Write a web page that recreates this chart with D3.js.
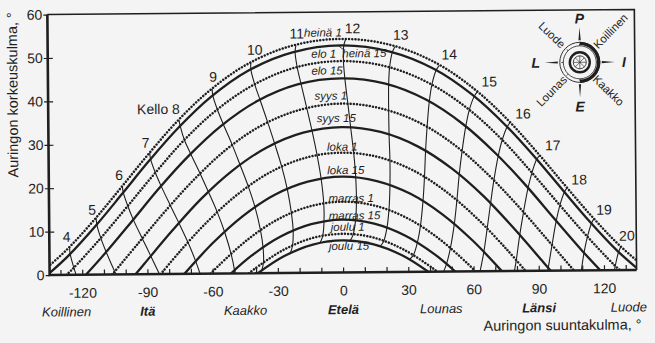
<!DOCTYPE html>
<html>
<head>
<meta charset="utf-8">
<script src="https://cdn.jsdelivr.net/npm/d3@7"></script>
<style>
  html, body { margin: 0; padding: 0; background: #f4f4f4; }
  svg { display: block; font-family: "Liberation Sans", Arial, sans-serif; }
</style>
</head>
<body>
<svg id="chart" width="655" height="343"></svg>
<script>
// Sun path diagram: solar altitude against azimuth (0 = south, negative = east)

const dateNames = ["heinä 1", "heinä 15", "elo 1", "elo 15", "syys 1", "syys 15",
                   "loka 1", "loka 15", "marras 1", "marras 15", "joulu 1", "joulu 15"];

// [azimuth °, altitude °] along each day's path, sunrise to sunset
const sunPaths = [
  [[-140.2,0],[-126.8,5.9],[-114.5,12.5],[-102.3,19.7],[-89.7,27.3],[-76.2,34.9],[-61.1,42.0],[-43.5,48.1],[-22.9,52.3],[0,53.8],[22.9,52.3],[43.5,48.1],[61.1,42.0],[76.2,34.9],[89.7,27.3],[102.3,19.7],[114.5,12.5],[126.8,5.9],[140.2,0]],
  [[-136.1,0],[-126.1,4.5],[-113.7,11.2],[-101.4,18.5],[-88.8,26.1],[-75.3,33.6],[-60.1,40.7],[-42.7,46.7],[-22.4,50.8],[0,52.3],[22.4,50.8],[42.7,46.7],[60.1,40.7],[75.3,33.6],[88.8,26.1],[101.4,18.5],[113.7,11.2],[126.1,4.5],[136.1,0]],
  [[-127.3,0],[-124.5,1.3],[-111.9,8.1],[-99.4,15.4],[-86.6,23.0],[-73.0,30.6],[-58.0,37.5],[-40.8,43.3],[-21.3,47.3],[0,48.7],[21.3,47.3],[40.8,43.3],[58.0,37.5],[73.0,30.6],[86.6,23.0],[99.4,15.4],[111.9,8.1],[124.5,1.3],[127.3,0]],
  [[-118.3,0],[-109.9,4.6],[-97.3,12.0],[-84.4,19.7],[-70.7,27.1],[-55.8,33.9],[-39.0,39.6],[-20.2,43.4],[0,44.7],[20.2,43.4],[39.0,39.6],[55.8,33.9],[70.7,27.1],[84.4,19.7],[97.3,12.0],[109.9,4.6],[118.3,0]],
  [[-106.2,0],[-94.2,7.1],[-81.2,14.7],[-67.6,22.0],[-52.9,28.7],[-36.7,34.1],[-18.9,37.6],[0,38.9],[18.9,37.6],[36.7,34.1],[52.9,28.7],[67.6,22.0],[81.2,14.7],[94.2,7.1],[106.2,0]],
  [[-95.5,0],[-91.4,2.4],[-78.4,10.0],[-64.9,17.3],[-50.5,23.7],[-34.8,28.9],[-17.8,32.3],[0,33.5],[17.8,32.3],[34.8,28.9],[50.5,23.7],[64.9,17.3],[78.4,10.0],[91.4,2.4],[95.5,0]],
  [[-83.9,0],[-75.5,4.9],[-62.2,12.0],[-48.0,18.3],[-32.9,23.3],[-16.8,26.5],[0,27.6],[16.8,26.5],[32.9,23.3],[48.0,18.3],[62.2,12.0],[75.5,4.9],[83.9,0]],
  [[-73.0,0],[-59.7,7.1],[-45.9,13.2],[-31.3,18.0],[-15.9,21.0],[0,22.1],[15.9,21.0],[31.3,18.0],[45.9,13.2],[59.7,7.1],[73.0,0]],
  [[-60.9,0],[-57.1,1.9],[-43.7,7.8],[-29.7,12.4],[-15.1,15.3],[0,16.3],[15.1,15.3],[29.7,12.4],[43.7,7.8],[57.1,1.9],[60.9,0]],
  [[-51.6,0],[-42.2,4.0],[-28.6,8.4],[-14.5,11.2],[0,12.2],[14.5,11.2],[28.6,8.4],[42.2,4.0],[51.6,0]],
  [[-43.3,0],[-41.0,0.9],[-27.8,5.2],[-14.0,8.0],[0,8.9],[14.0,8.0],[27.8,5.2],[41.0,0.9],[43.3,0]],
  [[-39.2,0],[-27.4,3.8],[-13.8,6.5],[0,7.4],[13.8,6.5],[27.4,3.8],[39.2,0]]
];

// clock hours and the sun's position at that hour on each date, top date first
const hourNames = [4, 5, 6, 7, 8, 9, 10, 11, 12, 13, 14, 15, 16, 17, 18, 19, 20];
const hourLines = [
  [[-125.7,6.5],[-125.5,4.9],[-123.8,1.6],[-122.8,0]],
  [[-113.4,13.1],[-113.1,11.6],[-111.3,8.4],[-108.9,5.2],[-105.1,0.7],[-104.5,0]],
  [[-101.2,20.4],[-100.8,18.9],[-98.8,15.8],[-96.3,12.6],[-92.2,8.2],[-88.4,4.2],[-84.5,0]],
  [[-88.5,28.0],[-88.1,26.5],[-86.0,23.4],[-83.3,20.2],[-79.2,15.8],[-75.3,11.7],[-71.2,7.2],[-67.7,2.8],[-65.8,0]],
  [[-74.9,35.5],[-74.3,34.0],[-72.5,30.9],[-69.6,27.6],[-65.4,23.1],[-61.6,18.8],[-57.6,14.1],[-54.3,9.5],[-51.4,4.4],[-49.9,0.6],[-49.8,0]],
  [[-59.5,42.6],[-59.2,41.0],[-57.2,37.8],[-54.5,34.4],[-50.4,29.5],[-46.9,24.9],[-43.2,19.9],[-40.2,15.1],[-37.8,9.8],[-36.7,5.8],[-36.6,2.4],[-37.5,0.5]],
  [[-41.6,48.5],[-41.6,46.9],[-39.9,43.5],[-37.5,39.9],[-34.0,34.6],[-30.9,29.7],[-27.7,24.3],[-25.3,19.2],[-23.5,13.6],[-22.8,9.6],[-23.2,6.2],[-24.3,4.4]],
  [[-20.8,52.4],[-21.2,50.9],[-20.3,47.4],[-18.6,43.5],[-16.0,37.8],[-13.7,32.6],[-11.4,26.8],[-9.7,21.5],[-8.6,15.7],[-8.6,11.6],[-9.3,8.3],[-10.7,6.7]],
  [[2.1,53.7],[1.2,52.2],[1.0,48.6],[1.6,44.6],[2.9,38.7],[4.1,33.2],[5.4,27.2],[6.2,21.7],[6.4,15.9],[5.9,11.8],[4.7,8.6],[3.2,7.2]],
  [[24.7,51.9],[23.5,50.6],[22.2,47.1],[21.7,43.1],[21.6,37.1],[21.7,31.5],[22.0,25.4],[21.9,19.9],[21.3,14.1],[20.3,10.1],[18.7,7.0],[17.0,5.9]],
  [[45.1,47.5],[43.6,46.4],[41.6,43.1],[40.3,39.1],[39.2,33.3],[38.4,27.7],[37.8,21.7],[37.0,16.1],[35.7,10.4],[34.2,6.6],[32.3,3.8],[30.4,2.8]],
  [[62.5,41.4],[61.0,40.3],[58.7,37.2],[57.0,33.4],[55.2,27.7],[53.8,22.3],[52.6,16.3],[51.3,10.8],[49.4,5.3],[47.5,1.6],[46.2,0]],
  [[77.4,34.2],[76.0,33.2],[73.7,30.2],[71.8,26.5],[69.7,20.9],[68.1,15.6],[66.4,9.7],[64.8,4.4],[63.0,0]],
  [[90.9,26.6],[89.5,25.7],[87.3,22.7],[85.4,19.1],[83.2,13.5],[81.4,8.3],[79.7,2.5],[78.8,0]],
  [[103.4,19.1],[102.1,18.1],[100.0,15.1],[98.2,11.4],[96.2,5.9],[94.4,0.7],[94.2,0]],
  [[115.6,11.9],[114.4,10.8],[112.5,7.7],[110.9,4.1],[109.6,0]],
  [[127.9,5.4],[126.8,4.2],[125.2,1.0],[124.8,0]]
];

const altTicks = [0, 10, 20, 30, 40, 50, 60];
const azTicks = [-120, -90, -60, -30, 0, 30, 60, 90, 120];
const azMinorTicks = [-130, -120, -110, -100, -90, -80, -70, -60, -50, -40, -30, -20, -10,
                      0, 10, 20, 30, 40, 50, 60, 70, 80, 90, 100, 110, 120, 130];
const directionNames = ["Koillinen", "Itä", "Kaakko", "Etelä", "Lounas", "Länsi", "Luode"];
const directionAz = [-135, -90, -45, 0, 45, 90, 135];
const compassMain = ["P", "I", "E", "L"];
const compassBetween = ["Koillinen", "Kaakko", "Lounas", "Luode"];

// ---------------------------------------------------------------- layout
const W = 655, H = 343;
const plot = { left: 48.5, right: 635.5, top: 12, bottom: 272.5 };
const ink = "#1f1f1f";

const svg = d3.select("#chart");
svg.append("rect").attr("width", W).attr("height", H).attr("fill", "#f4f4f4");
const g = svg.append("g").attr("transform", "rotate(-0.5 342 145)");

const x = d3.scaleLinear().domain([-135, 135]).range([plot.left, plot.right]);
const y = d3.scaleLinear().domain([0, 60]).range([plot.bottom, plot.top]);

g.append("clipPath").attr("id", "plotClip")
  .append("rect")
  .attr("x", plot.left).attr("y", plot.top)
  .attr("width", plot.right - plot.left).attr("height", plot.bottom - plot.top);

const line = d3.line()
  .x(d => x(d[0])).y(d => y(d[1]))
  .curve(d3.curveCatmullRom.alpha(0.5));

const marks = g.append("g").attr("clip-path", "url(#plotClip)");
const isFirstOfMonth = name => / 1$/.test(name);

// hour lines
marks.selectAll("path.hour").data(hourLines).join("path")
  .attr("class", "hour")
  .attr("d", line)
  .attr("fill", "none")
  .attr("stroke", ink)
  .attr("stroke-width", 1.1);

// day paths: 1st of month dotted, 15th solid
marks.selectAll("path.day").data(sunPaths).join("path")
  .attr("class", "day")
  .attr("d", line)
  .attr("fill", "none")
  .attr("stroke", ink)
  .attr("stroke-width", (d, i) => isFirstOfMonth(dateNames[i]) ? 2.5 : 2.3)
  .attr("stroke-linecap", (d, i) => isFirstOfMonth(dateNames[i]) ? "round" : "butt")
  .attr("stroke-dasharray", (d, i) => isFirstOfMonth(dateNames[i]) ? "0.01 3.2" : null);

// frame: thin top/right, heavy left/bottom axes
const [x0, x1] = x.range();
const [y0, y1] = y.range();
g.append("path")
  .attr("d", `M${x0},${y1}H${x1}V${y0}`)
  .attr("fill", "none").attr("stroke", ink).attr("stroke-width", 1.6);
g.append("path")
  .attr("d", `M${x0},${y1}V${y0}H${x1}`)
  .attr("fill", "none").attr("stroke", ink).attr("stroke-width", 2.6);

// y axis
const yAxisG = g.append("g").attr("transform", `translate(${x0},0)`)
  .call(d3.axisLeft(y).tickValues(altTicks).tickSize(4).tickPadding(1).tickFormat(d => String(d)));
yAxisG.select(".domain").remove();
yAxisG.selectAll("line").attr("stroke", ink).attr("stroke-width", 1.2);
yAxisG.selectAll("text").attr("font-size", 14).attr("fill", ink).attr("font-family", null);

const yInner = g.append("g").attr("transform", `translate(${x0},0)`)
  .call(d3.axisRight(y).tickValues(altTicks.slice(1, -1)).tickSize(5).tickFormat(""));
yInner.select(".domain").remove();
yInner.selectAll("line").attr("stroke", ink).attr("stroke-width", 1.2);

// x axis: minor ticks pointing into the plot, labels below
const xMinor = g.append("g").attr("transform", `translate(0,${y0})`)
  .call(d3.axisTop(x).tickValues(azMinorTicks).tickSize(5).tickFormat(""));
xMinor.select(".domain").remove();
xMinor.selectAll("line").attr("stroke", ink).attr("stroke-width", 1.2);

const xAxisG = g.append("g").attr("transform", `translate(0,${y0})`)
  .call(d3.axisBottom(x).tickValues(azTicks).tickSize(0).tickPadding(13).tickFormat(d => String(d)));
xAxisG.select(".domain").remove();
xAxisG.selectAll("text").attr("font-size", 14).attr("fill", ink).attr("font-family", null);

// compass direction names under the axis
g.selectAll("text.dir").data(directionNames).join("text")
  .attr("class", "dir")
  .attr("x", (d, i) => directionAz[i] === -135 ? x(directionAz[i]) - 8
                     : directionAz[i] === 135 ? x(directionAz[i]) + 10 : x(directionAz[i]))
  .attr("y", y0 + 41.5)
  .attr("text-anchor", (d, i) => directionAz[i] === -135 ? "start" : directionAz[i] === 135 ? "end" : "middle")
  .attr("font-size", 13)
  .attr("font-style", "italic")
  .attr("font-weight", (d, i) => directionAz[i] % 90 === 0 ? "bold" : "normal")
  .attr("fill", ink)
  .text(d => d);

// axis titles
g.append("text")
  .attr("x", 640).attr("y", 332)
  .attr("text-anchor", "end").attr("font-size", 14.5).attr("fill", ink)
  .text("Auringon suuntakulma, °");
g.append("text")
  .attr("transform", "translate(18,92) rotate(-90)")
  .attr("text-anchor", "middle").attr("font-size", 14.5).attr("fill", ink)
  .text("Auringon korkeuskulma, °");

// hour labels at the top end of each hour line
const hourShiftX = [-3, -4, -3, -4, -3, 1, 4, 1, 7, 6, 10, 12, 13, 13, 12, 10, 6];
const hourShiftY = [-10, -8, -11, -10, -11, -12, -13, -12, -11, -12, -11, -10, -9, -10, -8, -9, -11];
g.selectAll("text.hourLabel").data(hourNames).join("text")
  .attr("class", "hourLabel")
  .attr("x", (h, i) => x(hourLines[i][0][0]) + hourShiftX[i] + (h === 8 ? 4 : 0))
  .attr("y", (h, i) => y(hourLines[i][0][1]) + hourShiftY[i])
  .attr("dy", "0.36em")
  .attr("text-anchor", h => h === 8 ? "end" : "middle")
  .attr("font-size", 14)
  .attr("fill", ink)
  .text(h => h === 8 ? "Kello 8" : String(h));

// date labels beside the midday part of each path
const dateShiftX = [-37, 1, -30, -30, -27, -25, -15, -15, -14, -14, -12, -14];
const dateShiftY = [-2.5, 12, -3.5, -4, -4, -5, -2, -2.5, 0.5, 0, -3, 9.5];
const peakAlt = sunPaths.map(p => d3.max(p, d => d[1]));
g.selectAll("text.dateLabel").data(dateNames).join("text")
  .attr("class", "dateLabel")
  .attr("x", (d, i) => x(0) + dateShiftX[i])
  .attr("y", (d, i) => y(peakAlt[i]) + dateShiftY[i])
  .attr("font-size", 11.5)
  .attr("font-style", "italic")
  .attr("fill", ink)
  .text(d => d);

// short leaders for the labels written below their paths
[1, 11].forEach(i => {
  const lx = x(0) + dateShiftX[i], ly = y(peakAlt[i]) + dateShiftY[i];
  g.append("line")
    .attr("x1", lx - 4).attr("y1", y(peakAlt[i]) + (i === 1 ? 0 : 1))
    .attr("x2", lx + 1).attr("y2", ly - 8)
    .attr("stroke", ink).attr("stroke-width", 0.9);
});

// compass rose
const cx = plot.right - 55, cy = plot.top + 52.4;
const rose = g.append("g").attr("transform", `translate(${cx},${cy})`);
rose.append("circle").attr("r", 20).attr("fill", "none").attr("stroke", ink).attr("stroke-width", 0.9);
rose.append("circle").attr("r", 16.5).attr("fill", "none").attr("stroke", ink).attr("stroke-width", 0.8);
rose.append("path")
  .attr("d", d3.arc().innerRadius(17.2).outerRadius(20.6).startAngle(0).endAngle(Math.PI)())
  .attr("fill", ink);
rose.append("circle").attr("r", 10).attr("fill", "none").attr("stroke", ink).attr("stroke-width", 2.4);
rose.append("circle").attr("r", 6.5).attr("fill", "none").attr("stroke", ink).attr("stroke-width", 0.8);
d3.range(8).forEach(k => {
  const a = k * Math.PI / 4;
  rose.append("line")
    .attr("x1", 0).attr("y1", 0)
    .attr("x2", 6.5 * Math.sin(a)).attr("y2", -6.5 * Math.cos(a))
    .attr("stroke", ink).attr("stroke-width", 0.6);
  rose.append("line")
    .attr("x1", 16.5 * Math.sin(a)).attr("y1", -16.5 * Math.cos(a))
    .attr("x2", 18.5 * Math.sin(a)).attr("y2", -18.5 * Math.cos(a))
    .attr("stroke", ink).attr("stroke-width", 0.8);
});
compassMain.forEach((name, k) => {
  const a = k * Math.PI / 2;
  const sx = Math.sin(a), sy = -Math.cos(a);
  rose.append("path")
    .attr("d", `M${22 * sx - 1.1 * sy},${22 * sy + 1.1 * sx}L${35 * sx},${35 * sy}L${22 * sx + 1.1 * sy},${22 * sy - 1.1 * sx}Z`)
    .attr("fill", ink);
  rose.append("text")
    .attr("x", 44 * sx).attr("y", 44 * sy)
    .attr("dy", "0.36em")
    .attr("text-anchor", "middle")
    .attr("font-size", 14).attr("font-weight", "bold").attr("font-style", "italic")
    .attr("fill", ink)
    .text(name);
});
compassBetween.forEach((name, k) => {
  const deg = 45 + k * 90;
  const a = deg * Math.PI / 180;
  const r = 33 + name.length * 1.2;
  const rot = deg < 180 ? deg - 90 : deg - 270;
  rose.append("text")
    .attr("transform", `translate(${r * Math.sin(a)},${-r * Math.cos(a)}) rotate(${rot})`)
    .attr("dy", "0.35em")
    .attr("text-anchor", "middle")
    .attr("font-size", 11.5)
    .attr("fill", ink)
    .text(name);
});
</script>
</body>
</html>
